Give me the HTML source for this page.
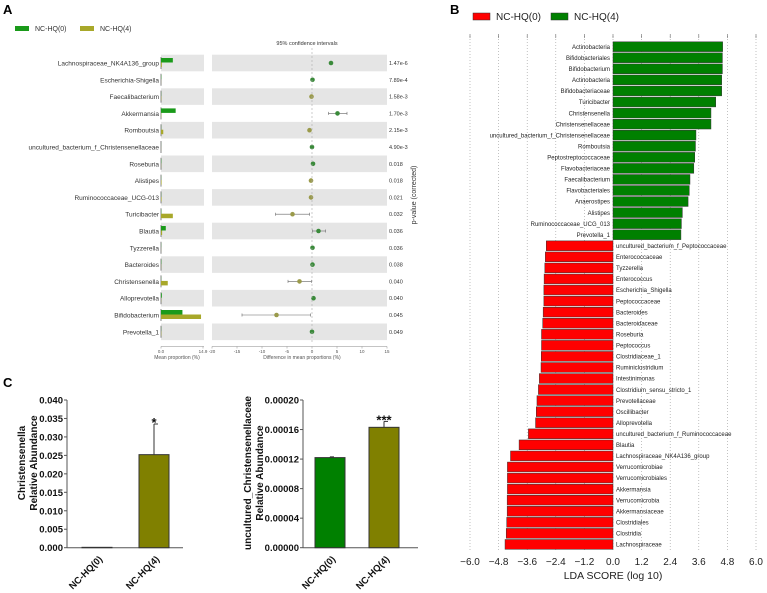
<!DOCTYPE html>
<html><head><meta charset="utf-8"><style>
html,body{margin:0;padding:0;background:#fff}
svg{display:block;font-family:"Liberation Sans",sans-serif}
</style></head><body>
<svg id="fig" width="767" height="593" viewBox="0 0 767 593" xmlns="http://www.w3.org/2000/svg"></svg>
<script>
// ===== Panel A data =====
const aTaxa=["Lachnospiraceae_NK4A136_group","Escherichia-Shigella","Faecalibacterium","Akkermansia","Romboutsia","uncultured_bacterium_f_Christensenellaceae","Roseburia","Alistipes","Ruminococcaceae_UCG-013","Turicibacter","Blautia","Tyzzerella","Bacteroides","Christensenella","Alloprevotella","Bifidobacterium","Prevotella_1"];
const aMean0=[4.2,0.1,0.05,5.2,0.05,0.02,0.1,0.05,0.05,0.1,1.7,0.05,0.1,0.05,0.3,7.6,0.05];
const aMean4=[0.3,0.02,0.1,0.1,0.8,0.02,0.05,0.2,0.2,4.2,0.4,0.02,0.05,2.4,0.05,14.2,0.1];
const aDiff=[3.8,0.1,-0.1,5.1,-0.5,0.0,0.2,-0.2,-0.2,-3.9,1.3,0.1,0.1,-2.5,0.3,-7.1,0.0];
const aLow=[3.6,0.05,-0.15,3.3,-0.7,-0.05,0.1,-0.3,-0.3,-7.3,0.1,0.05,0.05,-4.8,0.2,-14.0,-0.05];
const aHigh=[4.0,0.15,-0.05,7.0,-0.3,0.05,0.3,-0.1,-0.1,-0.5,2.7,0.15,0.15,-0.1,0.4,-0.3,0.05];
const aP=["1.47e-6","7.89e-4","1.58e-3","1.70e-3","2.15e-3","4.90e-3","0.018","0.018","0.021","0.032","0.036","0.036","0.038","0.040","0.040","0.045","0.049"];
const aDiffTicks=[-20,-15,-10,-5,0,5,10,15];
// ===== Panel B data =====
const bTaxa=["Actinobacteria","Bifidobacteriales","Bifidobacterium","Actinobacteria","Bifidobacteriaceae","Turicibacter","Christensenella","Christensenellaceae","uncultured_bacterium_f_Christensenellaceae","Romboutsia","Peptostreptococcaceae","Flavobacteriaceae","Faecalibacterium","Flavobacteriales","Anaerostipes","Alistipes","Ruminococcaceae_UCG_013","Prevotella_1","uncultured_bacterium_f_Peptococcaceae","Enterococcaceae","Tyzzerella","Enterococcus","Escherichia_Shigella","Peptococcaceae","Bacteroides","Bacteroidaceae","Roseburia","Peptococcus","Clostridiaceae_1","Ruminiclostridium","Intestinimonas","Clostridium_sensu_stricto_1","Prevotellaceae","Oscillibacter","Alloprevotella","uncultured_bacterium_f_Ruminococcaceae","Blautia","Lachnospiraceae_NK4A136_group","Verrucomicrobiae","Verrucomicrobiales","Akkermansia","Verrucomicrobia","Akkermansiaceae","Clostridiales","Clostridia","Lachnospiraceae"];
const bLda=[4.60,4.59,4.59,4.56,4.56,4.31,4.11,4.11,3.48,3.46,3.43,3.39,3.23,3.20,3.15,2.91,2.87,2.85,-2.80,-2.84,-2.86,-2.89,-2.90,-2.90,-2.93,-2.95,-3.00,-3.00,-3.01,-3.02,-3.09,-3.13,-3.19,-3.22,-3.25,-3.55,-3.94,-4.30,-4.43,-4.43,-4.43,-4.44,-4.44,-4.46,-4.48,-4.53];
const bTicks=[-6.0,-4.8,-3.6,-2.4,-1.2,0.0,1.2,2.4,3.6,4.8,6.0];
// ===== Panel C data =====
const c1Groups=["NC-HQ(0)","NC-HQ(4)"];
const c1Vals=[0.0001,0.0252];
const c1Err=[0,0.0083];
const c1Ticks=[0,0.005,0.010,0.015,0.020,0.025,0.030,0.035,0.040];
const c2Groups=["NC-HQ(0)","NC-HQ(4)"];
const c2Vals=[0.000122,0.000163];
const c2Err=[0.000001,0.000008];
const c2Ticks=[0,0.00004,0.00008,0.00012,0.00016,0.00020];

const NS="http://www.w3.org/2000/svg";
const svg=document.getElementById('fig');
function mk(tag,attrs,parent,text){const e=document.createElementNS(NS,tag);for(const k in attrs)e.setAttribute(k,attrs[k]);if(text!==undefined)e.textContent=text;(parent||svg).appendChild(e);return e;}

// ---------- Panel A ----------
let t;
t=mk('text',{x:3,y:14,'font-size':13,'font-weight':'bold'},svg,'A');

const aLeg=[["#1a9a1a","NC-HQ(0)",15],["#a8a82a","NC-HQ(4)",80]];
aLeg.forEach(l=>{const r=mk('rect',{x:l[2],y:26,width:14,height:5,fill:l[0]});

const tx=mk('text',{x:l[2]+20,y:31,'font-size':7,fill:'#333'},svg,l[1]);
});
t=mk('text',{x:307,y:45,'font-size':5.5,fill:'#333','text-anchor':'middle'},svg,'95% confidence intervals');

const rowY=i=>63+i*16.8;
const mx=v=>161+v*(42/14.9);
const dx=v=>312+v*5;
aTaxa.forEach((n,i)=>{const y=rowY(i);
 if(i%2===0){const b1=mk('rect',{x:161,y:y-8.3,width:43,height:16.6,fill:'#e5e5e5'});
 
 const b2=mk('rect',{x:212,y:y-8.3,width:175,height:16.6,fill:'#e5e5e5'});
 }
 const l=mk('text',{x:159,y:y+2.5,'font-size':6.5,fill:'#333','text-anchor':'end'},svg,n);
 
 mk('line',{x1:161,x2:161,y1:y-6,y2:y+6,stroke:'#333','stroke-width':0.6});
 const g=mk('rect',{x:161,y:y-5,width:Math.max(0,mx(aMean0[i])-161),height:4.5,fill:'#1a9a1a'});
 
 const o=mk('rect',{x:161,y:y-0.5,width:Math.max(0,mx(aMean4[i])-161),height:4.5,fill:'#a8a82a'});
 
 const col=aDiff[i]>=0?'#3a8a3a':'#9a9a4a';
 const ci=mk('line',{x1:dx(aLow[i]),x2:dx(aHigh[i]),y1:y,y2:y,stroke:'#666','stroke-width':0.6});
 
 [aLow[i],aHigh[i]].forEach(v=>mk('line',{x1:dx(v),x2:dx(v),y1:y-1.5,y2:y+1.5,stroke:'#666','stroke-width':0.6}));
 const p=mk('circle',{cx:dx(aDiff[i]),cy:y,r:2.3,fill:col});
 
 const pv=mk('text',{x:389,y:y+2,'font-size':5.5,fill:'#333'},svg,aP[i]);
 
});
mk('line',{x1:312,x2:312,y1:48,y2:342,stroke:'#aaa','stroke-width':0.6,'stroke-dasharray':'2,2'});
t=mk('text',{x:0,y:0,'font-size':7,fill:'#333','text-anchor':'middle',transform:'translate(416,195) rotate(-90)'},svg,'p-value (corrected)');

mk('line',{x1:161,x2:204,y1:346.5,y2:346.5,stroke:'#888','stroke-width':0.5});
mk('line',{x1:212,x2:387,y1:346.5,y2:346.5,stroke:'#888','stroke-width':0.5});
[[0,'0.0'],[14.9,'14.9']].forEach(v=>{mk('line',{x1:mx(v[0]),x2:mx(v[0]),y1:346.5,y2:348.5,stroke:'#888','stroke-width':0.5});
 const tx=mk('text',{x:mx(v[0]),y:353,'font-size':4.5,fill:'#555','text-anchor':'middle'},svg,v[1]);
 });
aDiffTicks.forEach(v=>{mk('line',{x1:dx(v),x2:dx(v),y1:346.5,y2:348.5,stroke:'#888','stroke-width':0.5});
 const tx=mk('text',{x:dx(v),y:353,'font-size':4.5,fill:'#555','text-anchor':'middle'},svg,String(v));
 });
t=mk('text',{x:177,y:359,'font-size':5,fill:'#555','text-anchor':'middle'},svg,'Mean proportion (%)');

t=mk('text',{x:302,y:359,'font-size':5,fill:'#555','text-anchor':'middle'},svg,'Difference in mean proportions (%)');


// ---------- Panel B ----------
t=mk('text',{x:450,y:14,'font-size':13,'font-weight':'bold'},svg,'B');

[["#ff0000","NC-HQ(0)",473],["#008000","NC-HQ(4)",551]].forEach(l=>{
 const r=mk('rect',{x:l[2],y:13,width:17,height:7,fill:l[0],stroke:'#333','stroke-width':0.5});
 
 const tx=mk('text',{x:l[2]+23,y:20,'font-size':10,fill:'#222'},svg,l[1]);
 });
const bx=v=>613+v*(143/6);
const by=i=>46.7+i*11.06;
bTicks.forEach(v=>{const x=bx(v);
 const gl=mk('line',{x1:x,x2:x,y1:36,y2:552,stroke:'#999','stroke-width':0.6,'stroke-dasharray':'1,2'});
 
 mk('line',{x1:x,x2:x,y1:34,y2:38,stroke:'#666','stroke-width':0.6});
 const tx=mk('text',{x:x,y:565,'font-size':10,fill:'#222','text-anchor':'middle'},svg,(v<0?'\u2212':'')+Math.abs(v).toFixed(1));
 });
bTaxa.forEach((n,i)=>{const y=by(i),v=bLda[i];
 const x0=Math.min(bx(0),bx(v)),w=Math.abs(bx(v)-bx(0));
 const r=mk('rect',{x:x0,y:y-4.9,width:w,height:9.8,fill:v>=0?'#008000':'#ff0000',stroke:'#333','stroke-width':0.5});
 
 const tx=mk('text',{x:v>=0?bx(0)-3:bx(0)+3,y:y+2.2,'font-size':6,fill:'#222','text-anchor':v>=0?'end':'start'},svg,n);
 });
t=mk('text',{x:613,y:579,'font-size':10.5,fill:'#222','text-anchor':'middle'},svg,'LDA SCORE (log 10)');


// ---------- Panel C ----------
t=mk('text',{x:3,y:387,'font-size':13,'font-weight':'bold'},svg,'C');

function barChart(o){
 const y0=547.7,y1=400,ys=v=>y0-(v/o.max)*(y0-y1);
 mk('line',{x1:o.ax,x2:o.ax,y1:y1,y2:y0,stroke:'#555','stroke-width':1});
 mk('line',{x1:o.ax,x2:o.axEnd,y1:y0,y2:y0,stroke:'#555','stroke-width':1});
 o.ticks.forEach(v=>{mk('line',{x1:o.ax-3,x2:o.ax,y1:ys(v),y2:ys(v),stroke:'#555','stroke-width':1});
  const tx=mk('text',{x:o.ax-4,y:ys(v)+3.5,'font-size':9.5,'font-weight':'bold',fill:'#111','text-anchor':'end'},svg,v.toFixed(o.dec));
  });
 o.vals.forEach((v,i)=>{const cx=o.cx[i],bw=30;
  const r=mk('rect',{x:cx-bw/2,y:ys(v),width:bw,height:y0-ys(v),fill:o.cols[i],stroke:'#333','stroke-width':1});
  
  if(o.err[i]>0){mk('line',{x1:cx,x2:cx,y1:ys(v),y2:ys(v+o.err[i]),stroke:'#333','stroke-width':1});
   mk('line',{x1:cx,x2:cx+4,y1:ys(v+o.err[i]),y2:ys(v+o.err[i]),stroke:'#333','stroke-width':1});}
  const lb=mk('text',{x:0,y:0,'font-size':9.5,'font-weight':'bold',fill:'#111','text-anchor':'end',transform:`translate(${cx+6},${y0+12}) rotate(-45)`},svg,o.groups[i]);
  });
 const s=mk('text',{x:o.cx[1],y:ys(o.vals[1]+o.err[1])+3,'font-size':13,'font-weight':'bold',fill:'#111','text-anchor':'middle'},svg,o.star);
 
 o.title.forEach((tl,k)=>{const tx=mk('text',{x:0,y:0,'font-size':10,'font-weight':'bold',fill:'#111','text-anchor':'middle',transform:`translate(${o.tx[k]},${o.ty}) rotate(-90)`},svg,tl);
  });
}
barChart({ax:67,axEnd:183,max:0.040,ticks:c1Ticks,dec:3,vals:c1Vals,err:c1Err,groups:c1Groups,cx:[97,154],cols:['#008000','#808000'],star:'*',title:['Christensenella','Relative Abundance'],tx:[25,37],ty:463});
barChart({ax:303,axEnd:418,max:0.0002,ticks:c2Ticks,dec:5,vals:c2Vals,err:c2Err,groups:c2Groups,cx:[330,384],cols:['#008000','#808000'],star:'***',title:['uncultured_Christensenellaceae','Relative Abundance'],tx:[251,263],ty:473});
</script>
</body></html>
